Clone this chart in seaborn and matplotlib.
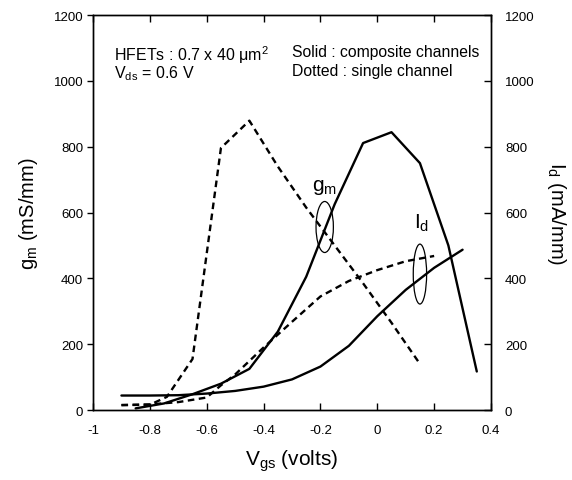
import matplotlib
matplotlib.use("Agg")
import matplotlib.pyplot as plt
import seaborn as sns
from matplotlib.patches import Ellipse

sns.set_style("ticks")
plt.rcParams['font.family'] = ['Liberation Sans', 'DejaVu Sans']
plt.rcParams['mathtext.fontset'] = 'custom'
plt.rcParams['mathtext.rm'] = 'Liberation Sans'
plt.rcParams['mathtext.it'] = 'Liberation Sans:italic'
for k in ('text.color', 'axes.labelcolor', 'xtick.color', 'ytick.color', 'axes.edgecolor'):
    plt.rcParams[k] = 'black'

# gm, composite channels (solid)
vgs_gm_comp = [-0.85, -0.75, -0.65, -0.55, -0.45, -0.35, -0.25, -0.15, -0.05, 0.05, 0.15, 0.25, 0.35]
gm_comp = [5, 20, 48, 80, 125, 238, 405, 625, 811, 844, 750, 500, 117]

# gm, single channel (dashed)
vgs_gm_single = [-0.9, -0.8, -0.74, -0.65, -0.55, -0.45, -0.35, -0.25, -0.15, -0.05, 0.05, 0.15]
gm_single = [15, 16, 40, 155, 796, 879, 740, 615, 500, 385, 265, 140]

# Id, composite channels (solid)
vgs_id_comp = [-0.9, -0.8, -0.7, -0.6, -0.5, -0.4, -0.3, -0.2, -0.1, 0.0, 0.1, 0.2, 0.3]
id_comp = [44, 44, 45, 50, 58, 71, 93, 132, 195, 285, 365, 432, 487]

# Id, single channel (dashed)
vgs_id_single = [-0.9, -0.8, -0.7, -0.6, -0.55, -0.5, -0.4, -0.3, -0.2, -0.1, 0.0, 0.1, 0.2]
id_single = [15, 17, 24, 38, 75, 108, 190, 268, 345, 392, 425, 452, 468]

x_ticks = [-1, -0.8, -0.6, -0.4, -0.2, 0, 0.2, 0.4]
x_labels = ['-1', '-0.8', '-0.6', '-0.4', '-0.2', '0', '0.2', '0.4']
y_ticks = [0, 200, 400, 600, 800, 1000, 1200]

fig = plt.figure(figsize=(5.72, 4.81), dpi=100)
ax = fig.add_axes([0.1626, 0.1455, 0.6958, 0.8212])
ax2 = ax.twinx()

lw = 1.7
dash = (2.8, 1.9)
sns.lineplot(x=vgs_gm_comp, y=gm_comp, ax=ax, color='black', lw=lw, estimator=None, sort=False)
sns.lineplot(x=vgs_gm_single, y=gm_single, ax=ax, color='black', lw=lw, estimator=None, sort=False
             ).lines[-1].set_dashes(dash)
sns.lineplot(x=vgs_id_comp, y=id_comp, ax=ax2, color='black', lw=lw, estimator=None, sort=False)
sns.lineplot(x=vgs_id_single, y=id_single, ax=ax2, color='black', lw=lw, estimator=None, sort=False
             ).lines[-1].set_dashes(dash)

for a in (ax, ax2):
    a.set_xlim(-1, 0.4)
    a.set_ylim(0, 1200)
    for s in a.spines.values():
        s.set_visible(True)
        s.set_color('black')
        s.set_linewidth(1.0)

ax.set_xticks(x_ticks)
ax.set_xticklabels(x_labels)
ax.set_yticks(y_ticks)
ax2.set_yticks(y_ticks)
ax.tick_params(axis='x', direction='in', top=True, bottom=True, length=5, width=1,
               labelsize=9.5, pad=10)
ax.tick_params(axis='y', direction='out', left=True, right=False, length=4, width=1,
               labelsize=9.5, pad=3)
ax2.tick_params(axis='y', direction='in', right=True, length=5, width=1, labelsize=9.5, pad=10)

ax.set_xlabel('V$_{\\mathregular{gs}}$ (volts)', fontsize=15, labelpad=8)
ax.set_ylabel('g$_{\\mathregular{m}}$ (mS/mm)', fontsize=14.5, labelpad=10)
ax2.set_ylabel('I$_{\\mathregular{d}}$ (mA/mm)', fontsize=14.5, rotation=270, labelpad=24)

ax.text(-0.925, 1081, 'HFETs : 0.7 x 40 $\\mathregular{\\mu}$m$^{\\mathregular{2}}$', fontsize=11.5, va='center')
ax.text(-0.925, 1025, 'V$_{\\mathregular{ds}}$ = 0.6 V', fontsize=11.5, va='center')
ax.text(-0.30, 1088, 'Solid : composite channels', fontsize=11.3, va='center')
ax.text(-0.30, 1030, 'Dotted : single channel', fontsize=11.3, va='center')

ax.text(-0.185, 680, 'g$_{\\mathregular{m}}$', fontsize=15, ha='center', va='center')
ax.text(0.155, 570, 'I$_{\\mathregular{d}}$', fontsize=15, ha='center', va='center')

ax.add_patch(Ellipse((-0.185, 556), 0.061, 155, fill=False, color='black', lw=0.9))
ax.add_patch(Ellipse((0.150, 413), 0.047, 182, fill=False, color='black', lw=0.9))

fig.savefig('out.png', dpi=100)
